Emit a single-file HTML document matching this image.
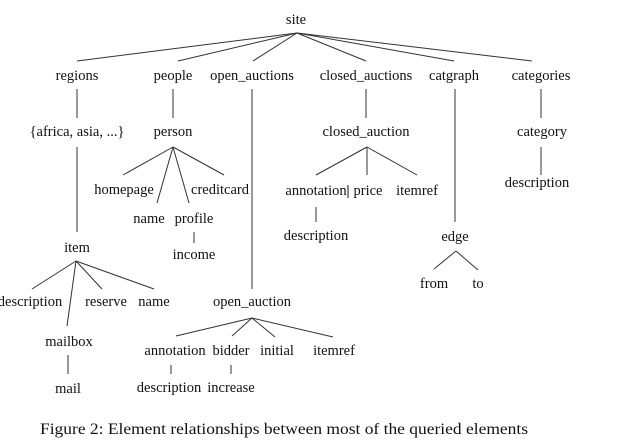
<!DOCTYPE html>
<html><head><meta charset="utf-8"><style>
html,body{margin:0;padding:0;background:#fff;}
svg{display:block;}
text{font-family:"Liberation Serif",serif;font-size:14.5px;fill:#111;text-anchor:middle;}
line{stroke:#333;stroke-width:1;}
</style></head><body>
<svg width="617" height="440" viewBox="0 0 617 440" xmlns="http://www.w3.org/2000/svg">
<rect width="617" height="440" fill="#fff"/>
<!-- site -->
<text x="296" y="24">site</text>
<line x1="297" y1="33" x2="77" y2="61"/>
<line x1="297" y1="33" x2="178" y2="61"/>
<line x1="297" y1="33" x2="253" y2="61"/>
<line x1="297" y1="33" x2="366" y2="61"/>
<line x1="297" y1="33" x2="454" y2="61"/>
<line x1="297" y1="33" x2="532" y2="61"/>
<!-- row 1 -->
<text x="77" y="80">regions</text>
<text x="173" y="80">people</text>
<text x="252" y="80">open_auctions</text>
<text x="366" y="80">closed_auctions</text>
<text x="454" y="80">catgraph</text>
<text x="541" y="80">categories</text>
<line x1="77" y1="89" x2="77" y2="118"/>
<line x1="173" y1="89" x2="173" y2="118"/>
<line x1="252" y1="89" x2="252" y2="289"/>
<line x1="366" y1="89" x2="366" y2="118"/>
<line x1="455" y1="89" x2="455" y2="222"/>
<line x1="541" y1="89" x2="541" y2="118"/>
<!-- row 2 -->
<text x="77" y="136">{africa, asia, ...}</text>
<text x="173" y="136">person</text>
<text x="366" y="136">closed_auction</text>
<text x="542" y="136">category</text>
<line x1="77" y1="147" x2="77" y2="232"/>
<line x1="541" y1="147" x2="541" y2="175"/>
<text x="537" y="187">description</text>
<!-- person -->
<line x1="173" y1="147" x2="123" y2="175"/>
<line x1="173" y1="147" x2="157" y2="203"/>
<line x1="173" y1="147" x2="189" y2="203"/>
<line x1="173" y1="147" x2="224" y2="175"/>
<text x="124" y="194">homepage</text>
<text x="220" y="194">creditcard</text>
<text x="149" y="223">name</text>
<text x="194" y="223">profile</text>
<line x1="194" y1="232" x2="194" y2="243"/>
<text x="194" y="259">income</text>
<!-- closed_auction -->
<line x1="367" y1="147" x2="316" y2="175"/>
<line x1="367" y1="147" x2="367" y2="175"/>
<line x1="367" y1="147" x2="417" y2="175"/>
<text x="316" y="195">annotation</text>
<line x1="348" y1="185" x2="348" y2="198" style="stroke:#111"/>
<text x="368" y="195">price</text>
<text x="417" y="195">itemref</text>
<line x1="316" y1="207" x2="316" y2="222"/>
<text x="316" y="240">description</text>
<!-- catgraph -->
<text x="455" y="241">edge</text>
<line x1="456" y1="251" x2="434" y2="269"/>
<line x1="456" y1="251" x2="478" y2="270"/>
<text x="434" y="288">from</text>
<text x="478" y="288">to</text>
<!-- item -->
<text x="77" y="252">item</text>
<line x1="76" y1="261" x2="32" y2="289"/>
<line x1="76" y1="261" x2="67" y2="326"/>
<line x1="76" y1="261" x2="102" y2="289"/>
<line x1="76" y1="261" x2="154" y2="289"/>
<text x="30" y="306">description</text>
<text x="106" y="306">reserve</text>
<text x="154" y="306">name</text>
<text x="69" y="346">mailbox</text>
<line x1="68" y1="355" x2="68" y2="374"/>
<text x="68" y="393">mail</text>
<!-- open_auction -->
<text x="252" y="306">open_auction</text>
<line x1="252" y1="318" x2="176" y2="336"/>
<line x1="252" y1="318" x2="232" y2="336"/>
<line x1="252" y1="318" x2="275" y2="337"/>
<line x1="252" y1="318" x2="333" y2="337"/>
<text x="175" y="355">annotation</text>
<text x="231" y="355">bidder</text>
<text x="277" y="355">initial</text>
<text x="334" y="355">itemref</text>
<line x1="171" y1="365" x2="171" y2="374"/>
<line x1="231" y1="365" x2="231" y2="374"/>
<text x="169" y="392">description</text>
<text x="231" y="392">increase</text>
<!-- caption -->
<text x="40" y="434" style="text-anchor:start;font-size:16px" textLength="488" lengthAdjust="spacingAndGlyphs">Figure 2: Element relationships between most of the queried elements</text>
</svg>
</body></html>
